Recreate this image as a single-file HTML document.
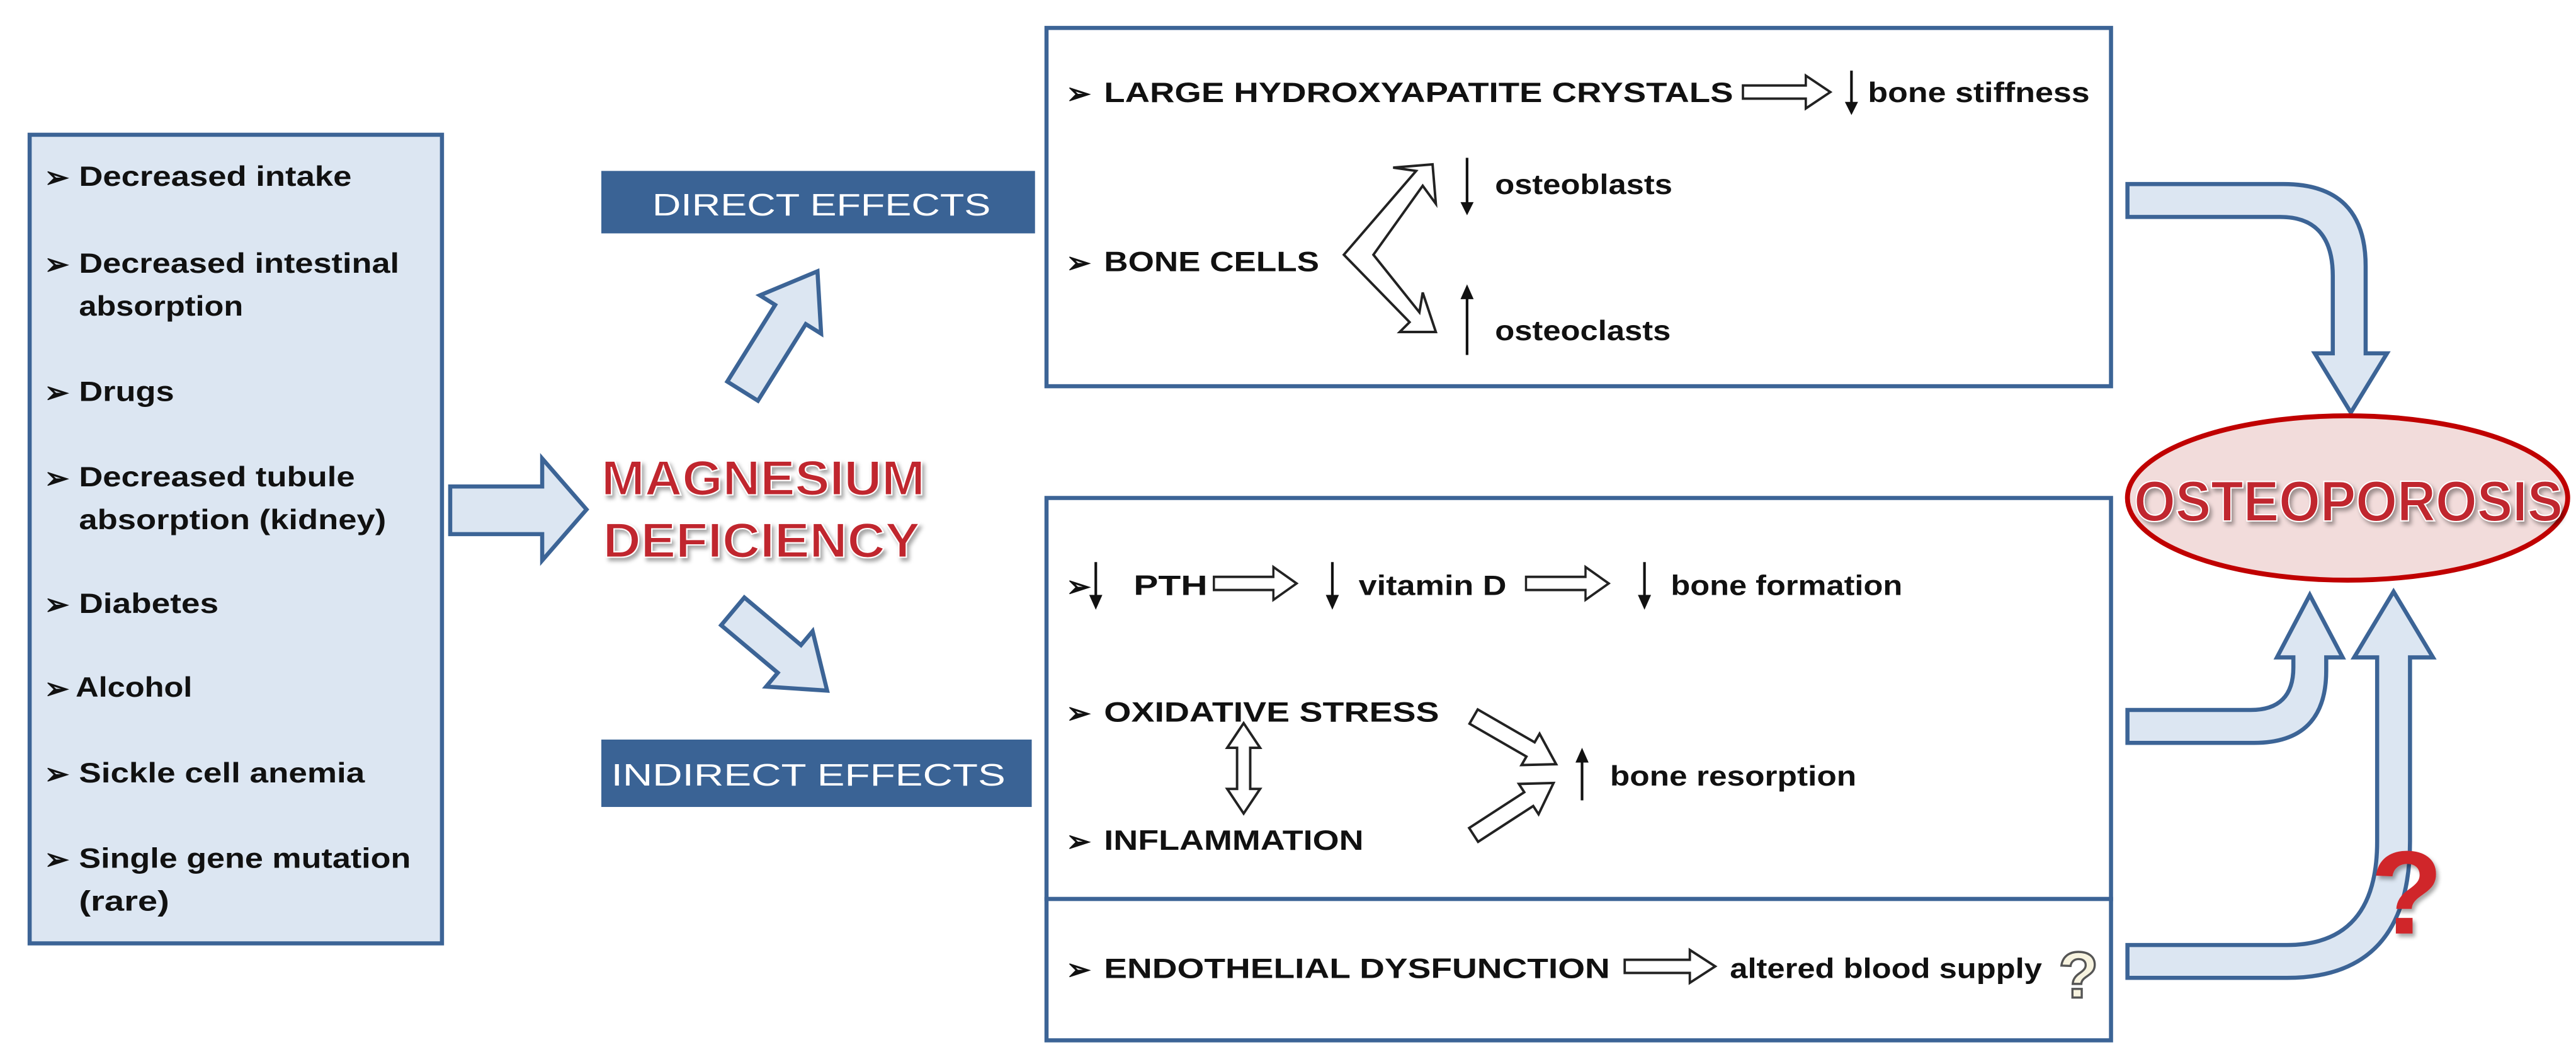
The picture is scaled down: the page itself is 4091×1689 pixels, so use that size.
<!DOCTYPE html>
<html><head><meta charset="utf-8"><style>
html,body{margin:0;padding:0;background:#fff;}
svg{display:block;}
text{font-family:"Liberation Sans",Arial,sans-serif;}
</style></head><body>
<svg width="4091" height="1689" viewBox="0 0 1568 647.4" xmlns="http://www.w3.org/2000/svg">
<defs>
<filter id="sh" x="-10%" y="-20%" width="130%" height="150%"><feDropShadow dx="1.5" dy="2" stdDeviation="1.2" flood-color="#000" flood-opacity="0.35"/></filter>
<symbol id="ha" viewBox="0 0 60 22" preserveAspectRatio="none" overflow="visible"><path d="M1,7 H42 V1 L58,11 L42,21 V15 H1 Z" fill="#fff" stroke="#222" stroke-width="1.5"/></symbol>
</defs>

<rect x="18" y="82" width="251" height="492" fill="#dce6f2" stroke="#3c6496" stroke-width="2.5"/>
<g font-size="17" font-weight="bold" fill="#111">
<g font-size="18">
<text x="27" y="114">➢</text><text x="27" y="167">➢</text><text x="27" y="245">➢</text><text x="27" y="297">➢</text>
<text x="27" y="374">➢</text><text x="27" y="425">➢</text><text x="27" y="477">➢</text><text x="27" y="529">➢</text>
</g>
<text x="48" y="113" textLength="166" lengthAdjust="spacingAndGlyphs">Decreased intake</text>
<text x="48" y="166" textLength="195" lengthAdjust="spacingAndGlyphs">Decreased intestinal</text>
<text x="48" y="192" textLength="100" lengthAdjust="spacingAndGlyphs">absorption</text>
<text x="48" y="244" textLength="58" lengthAdjust="spacingAndGlyphs">Drugs</text>
<text x="48" y="296" textLength="168" lengthAdjust="spacingAndGlyphs">Decreased tubule</text>
<text x="48" y="322" textLength="187" lengthAdjust="spacingAndGlyphs">absorption (kidney)</text>
<text x="48" y="373" textLength="85" lengthAdjust="spacingAndGlyphs">Diabetes</text>
<text x="46" y="424" textLength="71" lengthAdjust="spacingAndGlyphs">Alcohol</text>
<text x="48" y="476" textLength="174" lengthAdjust="spacingAndGlyphs">Sickle cell anemia</text>
<text x="48" y="528" textLength="202" lengthAdjust="spacingAndGlyphs">Single gene mutation</text>
<text x="48" y="554" textLength="55" lengthAdjust="spacingAndGlyphs">(rare)</text>
</g>

<path d="M274,296 H330 V279 L357,310 L330,341 V325 H274 Z" fill="#dce6f2" stroke="#3c6496" stroke-width="2.5"/>

<g font-size="30" font-weight="bold" fill="#c0282d" stroke="#fff" stroke-width="0.8" filter="url(#sh)">
<text x="366" y="301" textLength="197" lengthAdjust="spacingAndGlyphs">MAGNESIUM</text>
<text x="367" y="339" textLength="193" lengthAdjust="spacingAndGlyphs">DEFICIENCY</text>
</g>

<rect x="366" y="104" width="264" height="38" fill="#3a6395"/>
<text x="397" y="131" font-size="19" fill="#fff" textLength="206" lengthAdjust="spacingAndGlyphs">DIRECT EFFECTS</text>
<rect x="366" y="450" width="262" height="41" fill="#3a6395"/>
<text x="372" y="478" font-size="19" fill="#fff" textLength="240" lengthAdjust="spacingAndGlyphs">INDIRECT EFFECTS</text>

<g transform="translate(452,238) rotate(-58)">
<path d="M0,-11 H55 V-22 L86,0 L55,22 V11 H0 Z" fill="#dce6f2" stroke="#3c6496" stroke-width="2.5"/>
</g>
<g transform="translate(446,372) rotate(40)">
<path d="M0,-11 H45 V-22 L75,0 L45,22 V11 H0 Z" fill="#dce6f2" stroke="#3c6496" stroke-width="2.5"/>
</g>

<rect x="637" y="17" width="648" height="218" fill="#fff" stroke="#3c6496" stroke-width="2.5"/>
<g font-size="17" font-weight="bold" fill="#111">
<text x="649" y="63" font-size="18">➢</text><text x="672" y="62" textLength="383" lengthAdjust="spacingAndGlyphs">LARGE HYDROXYAPATITE CRYSTALS</text>
<text x="1137" y="62" textLength="135" lengthAdjust="spacingAndGlyphs">bone stiffness</text>
<text x="910" y="118" textLength="108" lengthAdjust="spacingAndGlyphs">osteoblasts</text>
<text x="649" y="166" font-size="18">➢</text><text x="672" y="165" textLength="131" lengthAdjust="spacingAndGlyphs">BONE CELLS</text>
<text x="910" y="207" textLength="107" lengthAdjust="spacingAndGlyphs">osteoclasts</text>
</g>
<use href="#ha" x="1060" y="45" width="56" height="22"/>
<g stroke="#111" stroke-width="1.6" fill="#111">
<line x1="1127" y1="43" x2="1127" y2="64"/><path d="M1123,62 L1131,62 L1127,70 Z" stroke="none"/>
<line x1="893" y1="96" x2="893" y2="125"/><path d="M889,123 L897,123 L893,131 Z" stroke="none"/>
<line x1="893" y1="180" x2="893" y2="216"/><path d="M889,182 L897,182 L893,173 Z" stroke="none"/>
</g>
<path d="M818,155 L862,104 L848,102 L872,100 L874,124 L866,113 L836,155 L864,190 L866,178 L874,202 L852,202 L858,196 Z" fill="#fff" stroke="#222" stroke-width="1.5"/>

<rect x="637" y="303" width="648" height="244" fill="#fff" stroke="#3c6496" stroke-width="2.5"/>
<rect x="637" y="547" width="648" height="86" fill="#fff" stroke="#3c6496" stroke-width="2.5"/>
<g font-size="17" font-weight="bold" fill="#111">
<text x="649" y="363" font-size="18">➢</text>
<text x="690" y="362" textLength="45" lengthAdjust="spacingAndGlyphs">PTH</text>
<text x="827" y="362" textLength="90" lengthAdjust="spacingAndGlyphs">vitamin D</text>
<text x="1017" y="362" textLength="141" lengthAdjust="spacingAndGlyphs">bone formation</text>
<text x="649" y="440" font-size="18">➢</text><text x="672" y="439" textLength="204" lengthAdjust="spacingAndGlyphs">OXIDATIVE STRESS</text>
<text x="980" y="478" textLength="150" lengthAdjust="spacingAndGlyphs">bone resorption</text>
<text x="649" y="518" font-size="18">➢</text><text x="672" y="517" textLength="158" lengthAdjust="spacingAndGlyphs">INFLAMMATION</text>
<text x="649" y="596" font-size="18">➢</text><text x="672" y="595" textLength="308" lengthAdjust="spacingAndGlyphs">ENDOTHELIAL DYSFUNCTION</text>
<text x="1053" y="595" textLength="190" lengthAdjust="spacingAndGlyphs">altered blood supply</text>
</g>
<use href="#ha" x="738" y="344" width="53" height="22"/>
<use href="#ha" x="928" y="344" width="53" height="22"/>
<use href="#ha" x="988" y="577" width="58" height="22"/>
<g stroke="#111" stroke-width="1.6" fill="#111">
<line x1="667" y1="342" x2="667" y2="364"/><path d="M663,362 L671,362 L667,371 Z" stroke="none"/>
<line x1="811" y1="342" x2="811" y2="364"/><path d="M807,362 L815,362 L811,371 Z" stroke="none"/>
<line x1="1001" y1="342" x2="1001" y2="364"/><path d="M997,362 L1005,362 L1001,371 Z" stroke="none"/>
<line x1="963" y1="462" x2="963" y2="487"/><path d="M959,464 L967,464 L963,455 Z" stroke="none"/>
</g>
<path d="M757,440 L767,455 L761,455 L761,480 L767,480 L757,495 L747,480 L753,480 L753,455 L747,455 Z" fill="#fff" stroke="#222" stroke-width="1.5"/>
<g transform="translate(897,436) rotate(30)"><path d="M0,-5 H40 V-11 L58,0 L40,11 V5 H0 Z" fill="#fff" stroke="#222" stroke-width="1.5"/></g>
<g transform="translate(897,508) rotate(-33)"><path d="M0,-5 H40 V-11 L58,0 L40,11 V5 H0 Z" fill="#fff" stroke="#222" stroke-width="1.5"/></g>
<text x="1253" y="607" font-size="40" font-weight="bold" fill="#f7f3df" stroke="#555" stroke-width="1.3">?</text>

<path d="M1295,112 H1390 Q1440,112 1440,162 V215 H1453 L1431,251 L1409,215 H1420 V168 Q1420,132 1388,132 H1295 Z" fill="#dce6f2" stroke="#3c6496" stroke-width="2.5"/>
<path d="M1295,432 H1370 Q1396,432 1396,406 V400 H1386 L1406,362 L1426,400 H1416 V408 Q1416,452 1372,452 H1295 Z" fill="#dce6f2" stroke="#3c6496" stroke-width="2.5"/>
<path d="M1295,575 H1392 Q1447,575 1447,512 V400 H1433 L1457,360 L1481,400 H1467 V512 Q1467,595 1392,595 H1295 Z" fill="#dce6f2" stroke="#3c6496" stroke-width="2.5"/>

<ellipse cx="1429" cy="303" rx="134" ry="50" fill="#f2dcdb" stroke="#c00000" stroke-width="3"/>
<text x="1299" y="317" font-size="35" font-weight="bold" fill="#c0282d" stroke="#fff" stroke-width="0.8" filter="url(#sh)" textLength="261" lengthAdjust="spacingAndGlyphs">OSTEOPOROSIS</text>

<text x="1443" y="568" font-size="72" font-weight="bold" fill="#d0252b" filter="url(#sh)">?</text>
</svg>
</body></html>
